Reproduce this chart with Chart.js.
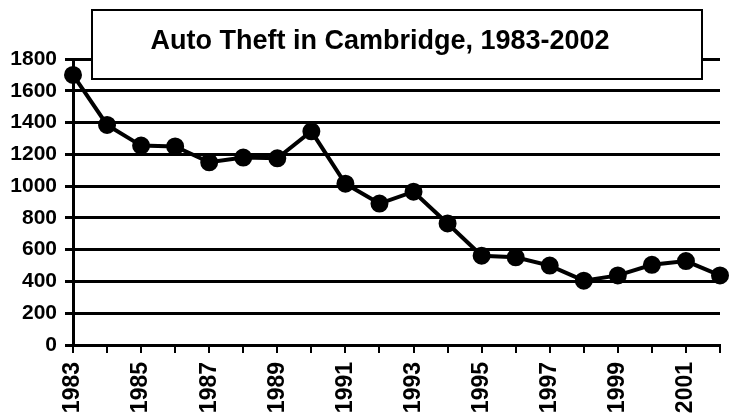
<!DOCTYPE html>
<html>
<head>
<meta charset="utf-8">
<script src="https://cdn.jsdelivr.net/npm/chart.js@4"></script>
<style>
  html, body { margin: 0; padding: 0; background: #fff; }
  #wrap { width: 735px; height: 417px; }
</style>
</head>
<body>
<div id="wrap"><canvas id="theft"></canvas></div>
<script>
let years = ['1983', '1984', '1985', '1986', '1987', '1988', '1989', '1990', '1991', '1992',
             '1993', '1994', '1995', '1996', '1997', '1998', '1999', '2000', '2001', '2002'];
let thefts = [1700, 1385, 1255, 1250, 1150, 1180, 1175, 1345, 1015, 890,
              965, 765, 562, 552, 500, 405, 438, 505, 528, 438];
let chartTitle = 'Auto Theft in Cambridge, 1983-2002';

let titleBox = {
  id: 'titleBox',
  afterDraw(chart) {
    let ctx = chart.ctx;
    ctx.save();
    ctx.fillStyle = '#fff';
    ctx.fillRect(92, 10, 610, 69);
    ctx.strokeStyle = '#000';
    ctx.lineWidth = 2;
    ctx.strokeRect(92, 10, 610, 69);
    ctx.fillStyle = '#000';
    ctx.font = 'bold 27px "Liberation Sans", Arial, sans-serif';
    ctx.textAlign = 'center';
    ctx.textBaseline = 'alphabetic';
    ctx.fillText(chartTitle, 380, 49);
    ctx.restore();
  }
};

let ctx = document.getElementById('theft').getContext('2d');
let theftChart = new Chart(ctx, {
  type: 'line',
  data: {
    labels: years,
    datasets: [{
      label: 'Auto Theft',
      data: thefts,
      borderColor: '#000',
      backgroundColor: '#000',
      borderWidth: 4,
      pointRadius: 7,
      pointBackgroundColor: '#000',
      pointBorderColor: '#000',
      tension: 0
    }]
  },
  options: {
    responsive: true,
    maintainAspectRatio: false,
    animation: false,
    layout: { padding: { top: 59, right: 15, left: 0, bottom: 0 } },
    plugins: { legend: { display: false }, tooltip: { enabled: false } },
    scales: {
      x: {
        offset: false,
        afterFit(scale) {
          scale.height = 72;
          scale.paddingLeft = 0;
          scale.paddingRight = 0;
        },
        grid: { drawOnChartArea: false, drawTicks: true, tickLength: 8, color: '#000', lineWidth: 2 },
        border: { color: '#000', width: 3 },
        ticks: {
          autoSkip: false,
          minRotation: 90,
          maxRotation: 90,
          padding: 9,
          color: '#000',
          font: { family: '"Liberation Sans", Arial, sans-serif', size: 23, weight: 'bold' },
          callback: function(val, i) { return i % 2 === 0 ? years[i] : ''; }
        }
      },
      y: {
        min: 0,
        max: 1800,
        afterFit(scale) { scale.width = 73; },
        grid: { color: '#000', lineWidth: 3, tickLength: 8 },
        border: { color: '#000', width: 3 },
        ticks: {
          stepSize: 200,
          padding: 8,
          color: '#000',
          font: { family: '"Liberation Sans", Arial, sans-serif', size: 21, weight: 'bold' },
          callback: function(val) { return String(val); }
        }
      }
    }
  },
  plugins: [titleBox]
});
</script>
</body>
</html>
